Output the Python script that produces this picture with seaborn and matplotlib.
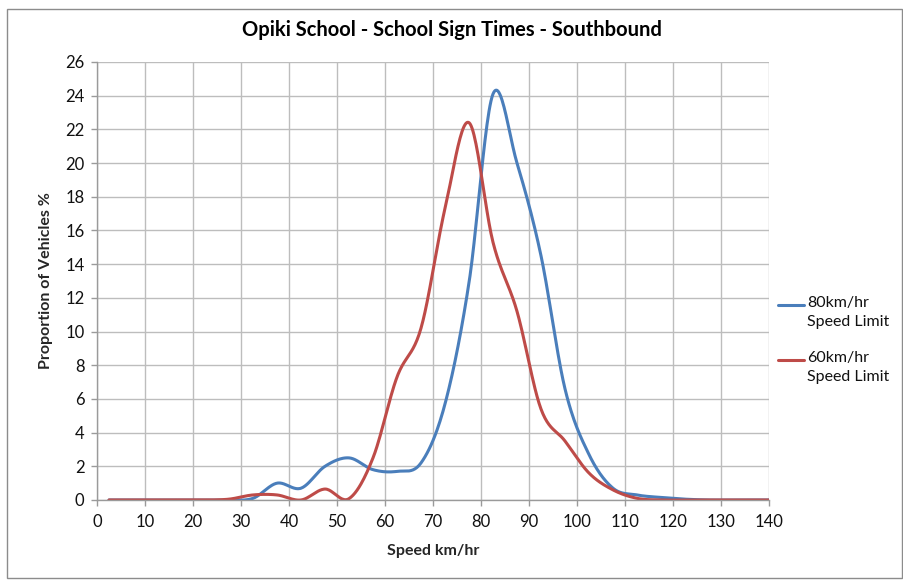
import numpy as np
import pandas as pd
import matplotlib
matplotlib.use("Agg")
import matplotlib.pyplot as plt
from matplotlib.patches import Rectangle
from matplotlib.lines import Line2D
import seaborn as sns

# ---- data (5 km/h speed bins, bin mid-points) ----
speed = [2.5, 7.5, 12.5, 17.5, 22.5, 27.5, 32.5, 37.5, 42.5, 47.5, 52.5, 57.5,
         62.5, 67.5, 72.5, 77.5, 82.5, 87.5, 92.5, 97.5, 102.5, 107.5, 112.5,
         117.5, 122.5, 127.5, 132.5, 137.5, 140]
limit80 = [0, 0, 0, 0, 0, 0, 0.1, 1.0, 0.7, 2.0, 2.5, 1.8,
           1.7, 2.2, 5.7, 12.9, 24.1, 20.0, 14.5, 6.6, 2.7, 0.7, 0.3,
           0.15, 0.05, 0, 0, 0, 0]
limit60 = [0, 0, 0, 0, 0, 0.05, 0.3, 0.3, 0.0, 0.65, 0.08, 2.5,
           7.3, 10.2, 17.3, 22.4, 15.3, 11.2, 5.4, 3.5, 1.6, 0.6, 0.1,
           0, 0, 0, 0, 0, 0]
series_names = ["80km/hr\nSpeed Limit", "60km/hr\nSpeed Limit"]
series_colors = ["#4A7EBB", "#BE4B48"]
x_ticks = list(range(0, 141, 10))
y_ticks = list(range(0, 27, 2))


def excel_smooth(x, y, n=24):
    """Bezier smoothing like a spreadsheet 'smoothed line' (rendering only)."""
    P = np.column_stack([x, y]).astype(float)
    out = []
    m = len(P)
    t = np.linspace(0, 1, n, endpoint=False)[:, None]
    for i in range(m - 1):
        p0 = P[i - 1] if i > 0 else P[i]
        p1, p2 = P[i], P[i + 1]
        p3 = P[i + 2] if i + 2 < m else P[i + 1]
        c1 = p1 + (p2 - p0) / 6.0
        c2 = p2 - (p3 - p1) / 6.0
        seg = ((1 - t) ** 3) * p1 + 3 * ((1 - t) ** 2) * t * c1 + \
              3 * (1 - t) * t ** 2 * c2 + t ** 3 * p2
        out.append(seg)
    out.append(P[-1][None, :])
    arr = np.vstack(out)
    return arr[:, 0], arr[:, 1]


frames = []
for name, vals in zip(series_names, [limit80, limit60]):
    sx, sy = excel_smooth(speed, vals)
    frames.append(pd.DataFrame({"Speed": sx, "Prop": sy, "Series": name}))
df = pd.concat(frames, ignore_index=True)

sns.set_style("white")
plt.rcParams["font.family"] = ["Lato", "DejaVu Sans"]

fig = plt.figure(figsize=(9.04, 5.85), dpi=100)
ax = fig.add_axes([97 / 904, 1 - 500 / 585, 672 / 904, 438 / 585])

sns.lineplot(data=df, x="Speed", y="Prop", hue="Series", palette=series_colors,
             hue_order=series_names, sort=False, estimator=None, units="Series",
             linewidth=2.2, ax=ax, legend=False)

ax.set_xlim(0, 140)
ax.set_ylim(0, 26)
ax.set_xticks(x_ticks)
ax.set_yticks(y_ticks)
ax.grid(True, color="#BDBDBD", linewidth=1.0)
ax.set_axisbelow(True)
for s in ["top", "right"]:
    ax.spines[s].set_visible(False)
for s in ["left", "bottom"]:
    ax.spines[s].set_color("#9A9A9A")
    ax.spines[s].set_linewidth(1.0)
ax.tick_params(axis="both", which="both", length=4, width=1, color="#9A9A9A",
               labelsize=12, labelcolor="#111111", direction="out",
               bottom=True, left=True)
ax.tick_params(axis="x", pad=6)
ax.tick_params(axis="y", pad=5)

ax.set_xlabel("Speed km/hr", fontsize=11.5, fontweight="bold", labelpad=10)
ax.set_ylabel("Proportion of Vehicles %", fontsize=11.5, fontweight="bold",
              labelpad=9)

fig.text(452 / 904, 1 - 30 / 585, "Opiki School - School Sign Times - Southbound",
         ha="center", va="center", fontsize=14.5, fontweight="bold", color="#000000")

# legend (handle aligned with the first text line, as in the reference)
legend_top_px = [305, 360]
for name, col, ypx in zip(series_names, series_colors, legend_top_px):
    yf = 1 - ypx / 585
    fig.add_artist(Line2D([778 / 904, 804 / 904], [yf, yf], color=col,
                          linewidth=2.2, transform=fig.transFigure))
    fig.text(807 / 904, 1 - (ypx - 9) / 585, name, ha="left", va="top",
             fontsize=11.5, linespacing=1.45, color="#111111")

fig.patches.append(Rectangle((7 / 904, 1 - 578 / 585), 895 / 904, 569 / 585,
                             transform=fig.transFigure, fill=False,
                             edgecolor="#8C8C8C", linewidth=1.0))

fig.savefig("out.png", dpi=100)
